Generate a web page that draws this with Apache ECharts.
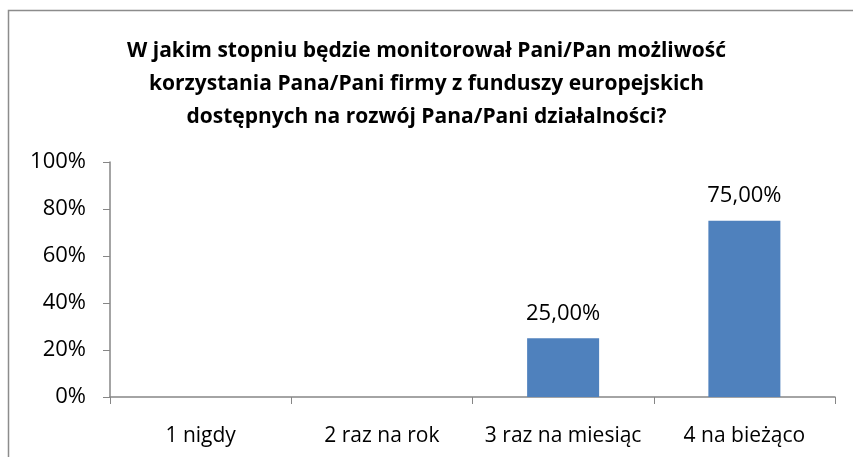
<!DOCTYPE html>
<html>
<head>
    <meta charset="utf-8">
    <title>Monitorowanie funduszy europejskich</title>
    <script src="https://cdn.jsdelivr.net/npm/echarts@6/dist/echarts.min.js"></script>
    <style>
        html, body { margin: 0; padding: 0; background: #fff; }
        #chart1 { width: 853px; height: 457px; }
    </style>
</head>
<body>
<div id="chart1"></div>
<script type="text/javascript">
    // dane
    var titleText = 'W jakim stopniu będzie monitorował Pani/Pan możliwość\nkorzystania Pana/Pani firmy z funduszy europejskich\ndostępnych na rozwój Pana/Pani działalności?';
    var categories = ['1 nigdy', '2 raz na rok', '3 raz na miesiąc', '4 na bieżąco'];
    var values = [0, 0, 25, 75];
    var yTicks = [0, 20, 40, 60, 80, 100];

    var myChart1 = echarts.init(document.getElementById('chart1'));
    myChart1.setOption({
        animation: false,
        backgroundColor: '#ffffff',
        textStyle: { fontFamily: 'Open Sans' },
        graphic: [{
            type: 'rect',
            shape: { x: 8.5, y: 10.5, width: 900, height: 500 },
            style: { fill: 'none', stroke: '#8c8c8c', lineWidth: 1.5 },
            silent: true
        }],
        title: {
            text: titleText,
            left: 'center',
            top: 30,
            textStyle: {
                fontFamily: 'Open Sans',
                fontWeight: 'bold',
                fontSize: 21,
                lineHeight: 33,
                color: '#000'
            }
        },
        grid: { left: 110, right: 18, top: 162, bottom: 60 },
        xAxis: {
            type: 'category',
            data: categories,
            axisLine: { lineStyle: { color: '#868686', width: 1.5 } },
            axisTick: { show: true, length: 7, lineStyle: { color: '#868686' } },
            axisLabel: { color: '#000', fontSize: 21, margin: 29, interval: 0 }
        },
        yAxis: {
            type: 'value',
            min: 0,
            max: 100,
            interval: 20,
            splitLine: { show: false },
            axisLine: { show: true, lineStyle: { color: '#868686', width: 1.5 } },
            axisTick: { show: true, length: 7, lineStyle: { color: '#868686' } },
            axisLabel: {
                color: '#000',
                fontSize: 22,
                margin: 24,
                formatter: function (v) {
                    return yTicks.indexOf(v) >= 0 ? v + '%' : '';
                }
            }
        },
        series: [{
            type: 'bar',
            data: values,
            barWidth: 72,
            itemStyle: { color: '#4f81bd' },
            label: {
                show: true,
                position: 'top',
                distance: 14,
                color: '#000',
                fontSize: 22,
                formatter: function (p) {
                    return p.value > 0 ? p.value.toFixed(2).replace('.', ',') + '%' : '';
                }
            }
        }]
    });
</script>
</body>
</html>
